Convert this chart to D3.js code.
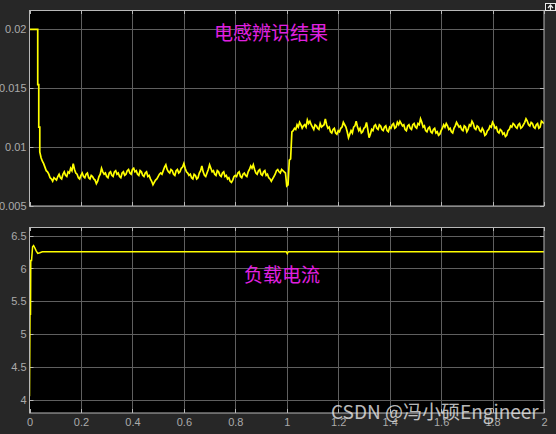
<!DOCTYPE html>
<html><head><meta charset="utf-8">
<script src="https://cdn.jsdelivr.net/npm/d3@7"></script>
<style>
html,body{margin:0;padding:0;background:#272727;}
svg{display:block;}
</style></head>
<body>
<svg id="c" width="556" height="434"></svg>
<script>
// ---- data ----
const xTicks = [0,0.2,0.4,0.6,0.8,1,1.2,1.4,1.6,1.8,2];
const yTicksTop = [0.005,0.01,0.015,0.02];
const yTicksBot = [4,4.5,5,5.5,6,6.5];
const titleTop = "电感辨识结果";
const titleBot = "负载电流";
const watermark = "CSDN @冯小硕Engineer";

// inductance identification: initial transient (explicit times)
const indInitT = [0, 0.032, 0.032, 0.036, 0.036, 0.04];
const indInitV = [0.02, 0.02, 0.0153, 0.0153, 0.0117, 0.0117];
// sampled every 0.01 s starting at t = 0.04
const indStartT = 0.04, indStepT = 0.01;
const indV = [
0.0096,0.0088,0.0083,0.0079,0.0074,0.0071,0.0073,0.0075,0.0074,0.0077,
0.0076,0.0079,0.0082,0.0086,0.0078,0.0074,0.0076,0.0075,0.0077,0.0074,
0.0076,0.0073,0.0069,0.0075,0.0082,0.0077,0.0075,0.0078,0.0076,0.0079,
0.0077,0.0075,0.0078,0.0076,0.0080,0.0078,0.0081,0.0079,0.0077,0.0080,
0.0076,0.0078,0.0075,0.0073,0.0068,0.0072,0.0075,0.0078,0.0080,0.0085,
0.0079,0.0081,0.0077,0.0080,0.0078,0.0082,0.0086,0.0079,0.0076,0.0074,
0.0077,0.0073,0.0078,0.0084,0.0076,0.0078,0.0085,0.0079,0.0077,0.0080,
0.0076,0.0078,0.0075,0.0073,0.0071,0.0072,0.0076,0.0078,0.0075,0.0077,
0.0076,0.0079,0.0084,0.0085,0.0078,0.0080,0.0077,0.0079,0.0076,0.0074,
0.0071,0.0075,0.0080,0.0079,0.0081,0.0079,0.0067,0.0089,0.0113,0.0116,
0.0119,0.0121,0.0116,0.0119,0.0123,0.0122,0.0117,0.0119,0.0116,0.0120,
0.0118,0.0124,0.0116,0.0113,0.0115,0.0112,0.0114,0.0116,0.0121,0.0117,
0.0108,0.0114,0.0117,0.0122,0.0114,0.0112,0.0116,0.0121,0.0108,0.0115,
0.0118,0.0116,0.0119,0.0115,0.0117,0.0114,0.0117,0.0119,0.0116,0.0121,
0.0122,0.0118,0.0115,0.0118,0.0116,0.0119,0.0117,0.0120,0.0124,0.0117,
0.0114,0.0116,0.0113,0.0115,0.0112,0.0110,0.0114,0.0119,0.0120,0.0115,
0.0113,0.0116,0.0121,0.0117,0.0115,0.0118,0.0113,0.0119,0.0122,0.0116,
0.0118,0.0114,0.0116,0.0110,0.0114,0.0118,0.0121,0.0116,0.0113,0.0115,
0.0111,0.0109,0.0114,0.0118,0.0120,0.0117,0.0119,0.0116,0.0119,0.0124,
0.0119,0.0121,0.0117,0.0119,0.0116,0.0122,0.0120
];
// in-between samples (t = 0.045, 0.055, ...)
const indMid = [
0.0091,0.0086,0.0080,0.0077,0.0073,0.0074,0.0072,0.0077,0.0073,0.0079,
0.0075,0.0078,0.0080,0.0081,0.0077,0.0073,0.0078,0.0074,0.0078,0.0073,
0.0075,0.0072,0.0071,0.0077,0.0079,0.0078,0.0074,0.0079,0.0075,0.0080,
0.0078,0.0074,0.0079,0.0077,0.0081,0.0077,0.0082,0.0080,0.0076,0.0079,
0.0075,0.0079,0.0076,0.0071,0.0070,0.0073,0.0077,0.0077,0.0083,0.0081,
0.0078,0.0080,0.0076,0.0081,0.0079,0.0083,0.0082,0.0078,0.0077,0.0073,
0.0076,0.0074,0.0080,0.0079,0.0075,0.0081,0.0082,0.0080,0.0076,0.0079,
0.0075,0.0079,0.0076,0.0074,0.0070,0.0075,0.0075,0.0079,0.0074,0.0078,
0.0075,0.0081,0.0082,0.0081,0.0077,0.0081,0.0076,0.0080,0.0077,0.0073,
0.0073,0.0077,0.0081,0.0078,0.0080,0.0078,0.0068,0.0090,0.0114,0.0115,
0.0117,0.0119,0.0118,0.0117,0.0120,0.0119,0.0115,0.0118,0.0115,0.0117,
0.0119,0.0119,0.0117,0.0112,0.0116,0.0111,0.0113,0.0117,0.0119,0.0113,
0.0111,0.0112,0.0118,0.0117,0.0116,0.0113,0.0117,0.0115,0.0111,0.0114,
0.0119,0.0115,0.0118,0.0114,0.0118,0.0113,0.0116,0.0120,0.0117,0.0119,
0.0120,0.0119,0.0114,0.0119,0.0115,0.0120,0.0116,0.0119,0.0121,0.0118,
0.0113,0.0117,0.0112,0.0116,0.0113,0.0111,0.0116,0.0117,0.0118,0.0116,
0.0112,0.0118,0.0119,0.0118,0.0114,0.0117,0.0115,0.0118,0.0120,0.0115,
0.0117,0.0113,0.0114,0.0111,0.0115,0.0117,0.0119,0.0117,0.0112,0.0114,
0.0112,0.0110,0.0115,0.0117,0.0119,0.0116,0.0120,0.0117,0.0121,0.0122,
0.0118,0.0120,0.0116,0.0120,0.0117,0.0121
];

// load current
const curT = [0, 0.002, 0.004, 0.005, 0.008, 0.012, 0.016, 0.02, 0.026, 0.032, 0.04, 0.05, 0.3, 0.6, 0.998, 1.002, 1.006, 1.4, 1.8, 2];
const curV = [4.05, 5.3, 5.3, 6.12, 6.12, 6.33, 6.35, 6.32, 6.27, 6.23, 6.24, 6.255, 6.255, 6.255, 6.255, 6.225, 6.255, 6.255, 6.255, 6.255];

// ---- build ----
const svg = d3.select("#c");
const x = d3.scaleLinear().domain([0,2]).range([29.5,544]);
const yT = d3.scaleLinear().domain([0.005,0.02164]).range([206,10]);
const yB = d3.scaleLinear().domain([3.795,6.633]).range([413,227]);

const sampled = [];
indV.forEach((v,i)=>{
  sampled.push([indStartT + i*indStepT, v]);
  if(i < indMid.length) sampled.push([indStartT + i*indStepT + indStepT/2, indMid[i]]);
});
const indData = indInitT.map((t,i)=>[t,indInitV[i]]).concat(sampled);
const curData = curT.map((t,i)=>[t,curV[i]]);

const gridCol = "#5f5f5f", boxCol = "#b8b8b8", txtCol = "#ababab";
const font = "'Liberation Sans', Arial, sans-serif";

function panel(id, y, yTicks, data, showX, lw){
  const x0 = x.range()[0], x1 = x.range()[1];
  const yTop = y.range()[1], yBot = y.range()[0];
  const g = svg.append("g");
  g.append("rect").attr("x",x0).attr("y",yTop).attr("width",x1-x0).attr("height",yBot-yTop).attr("fill","#000");
  g.append("g").selectAll("line").data(xTicks.slice(1,-1)).join("line")
    .attr("x1",d=>Math.round(x(d))+0.5).attr("x2",d=>Math.round(x(d))+0.5)
    .attr("y1",yTop).attr("y2",yBot).attr("stroke",gridCol).attr("stroke-width",1);
  g.append("g").selectAll("line").data(yTicks).join("line")
    .attr("y1",d=>Math.round(y(d))+0.5).attr("y2",d=>Math.round(y(d))+0.5)
    .attr("x1",x0).attr("x2",x1).attr("stroke",gridCol).attr("stroke-width",1);
  const tk = g.append("g").attr("stroke",boxCol).attr("stroke-width",1);
  xTicks.forEach(d=>{
    const xx = Math.round(x(d))+0.5;
    tk.append("line").attr("x1",xx).attr("x2",xx).attr("y1",yBot).attr("y2",yBot-4);
    tk.append("line").attr("x1",xx).attr("x2",xx).attr("y1",yTop).attr("y2",yTop+4);
  });
  yTicks.forEach(d=>{
    const yy = Math.round(y(d))+0.5;
    tk.append("line").attr("y1",yy).attr("y2",yy).attr("x1",x0).attr("x2",x0+4);
    tk.append("line").attr("y1",yy).attr("y2",yy).attr("x1",x1).attr("x2",x1-4);
  });
  svg.append("clipPath").attr("id",id).append("rect")
    .attr("x",x0).attr("y",yTop).attr("width",x1-x0).attr("height",yBot-yTop);
  g.append("path").datum(data).attr("clip-path",`url(#${id})`)
    .attr("fill","none").attr("stroke","#ffff00").attr("stroke-width",lw)
    .attr("d", d3.line().x(d=>x(d[0])).y(d=>y(d[1])));
  g.append("rect").attr("x",x0).attr("y",yTop+0.5).attr("width",x1-x0).attr("height",yBot-yTop-0.5)
    .attr("fill","none").attr("stroke",boxCol).attr("stroke-width",1);
  const ay = g.append("g").attr("transform",`translate(${x0},0)`)
    .call(d3.axisLeft(y).tickValues(yTicks).tickSize(0).tickPadding(3).tickFormat(d3.format("~g")));
  ay.select(".domain").remove();
  ay.selectAll("text").attr("fill",txtCol).style("font-family",font).style("font-size","11px");
  if(showX){
    const ax = g.append("g").attr("transform",`translate(0,${yBot})`)
      .call(d3.axisBottom(x).tickValues(xTicks).tickSize(0).tickPadding(5).tickFormat(d3.format("~g")));
    ax.select(".domain").remove();
    ax.selectAll("text").attr("fill",txtCol).style("font-family",font).style("font-size","11px");
  }
}

panel("clipT", yT, yTicksTop, indData, false, 1.7);
panel("clipB", yB, yTicksBot, curData, true, 1.5);

// titles
svg.append("text").attr("x",214).attr("y",39.5)
  .attr("fill","#e020e0").style("font-family","'Noto Sans CJK SC', sans-serif").style("font-size","19px")
  .text(titleTop);
svg.append("text").attr("x",244).attr("y",282)
  .attr("fill","#e020e0").style("font-family","'Noto Sans CJK SC', sans-serif").style("font-size","19px")
  .text(titleBot);

// top-right icon
const ic = svg.append("g");
ic.append("rect").attr("x",545.5).attr("y",3.5).attr("width",10).attr("height",7).attr("fill","#1a1a1a").attr("stroke","#e8e8e8").attr("stroke-width",1);
ic.append("path").attr("d","M548,8 L550.5,5 L553,8 M550.5,5 L550.5,10").attr("stroke","#e8e8e8").attr("fill","none").attr("stroke-width",1.2);

// watermark
svg.append("text").attr("x",331).attr("y",419)
  .attr("fill","rgba(235,235,235,0.8)").style("font-family","'Noto Sans CJK SC', sans-serif").style("font-size","19px")
  .text(watermark);
</script>
</body></html>
